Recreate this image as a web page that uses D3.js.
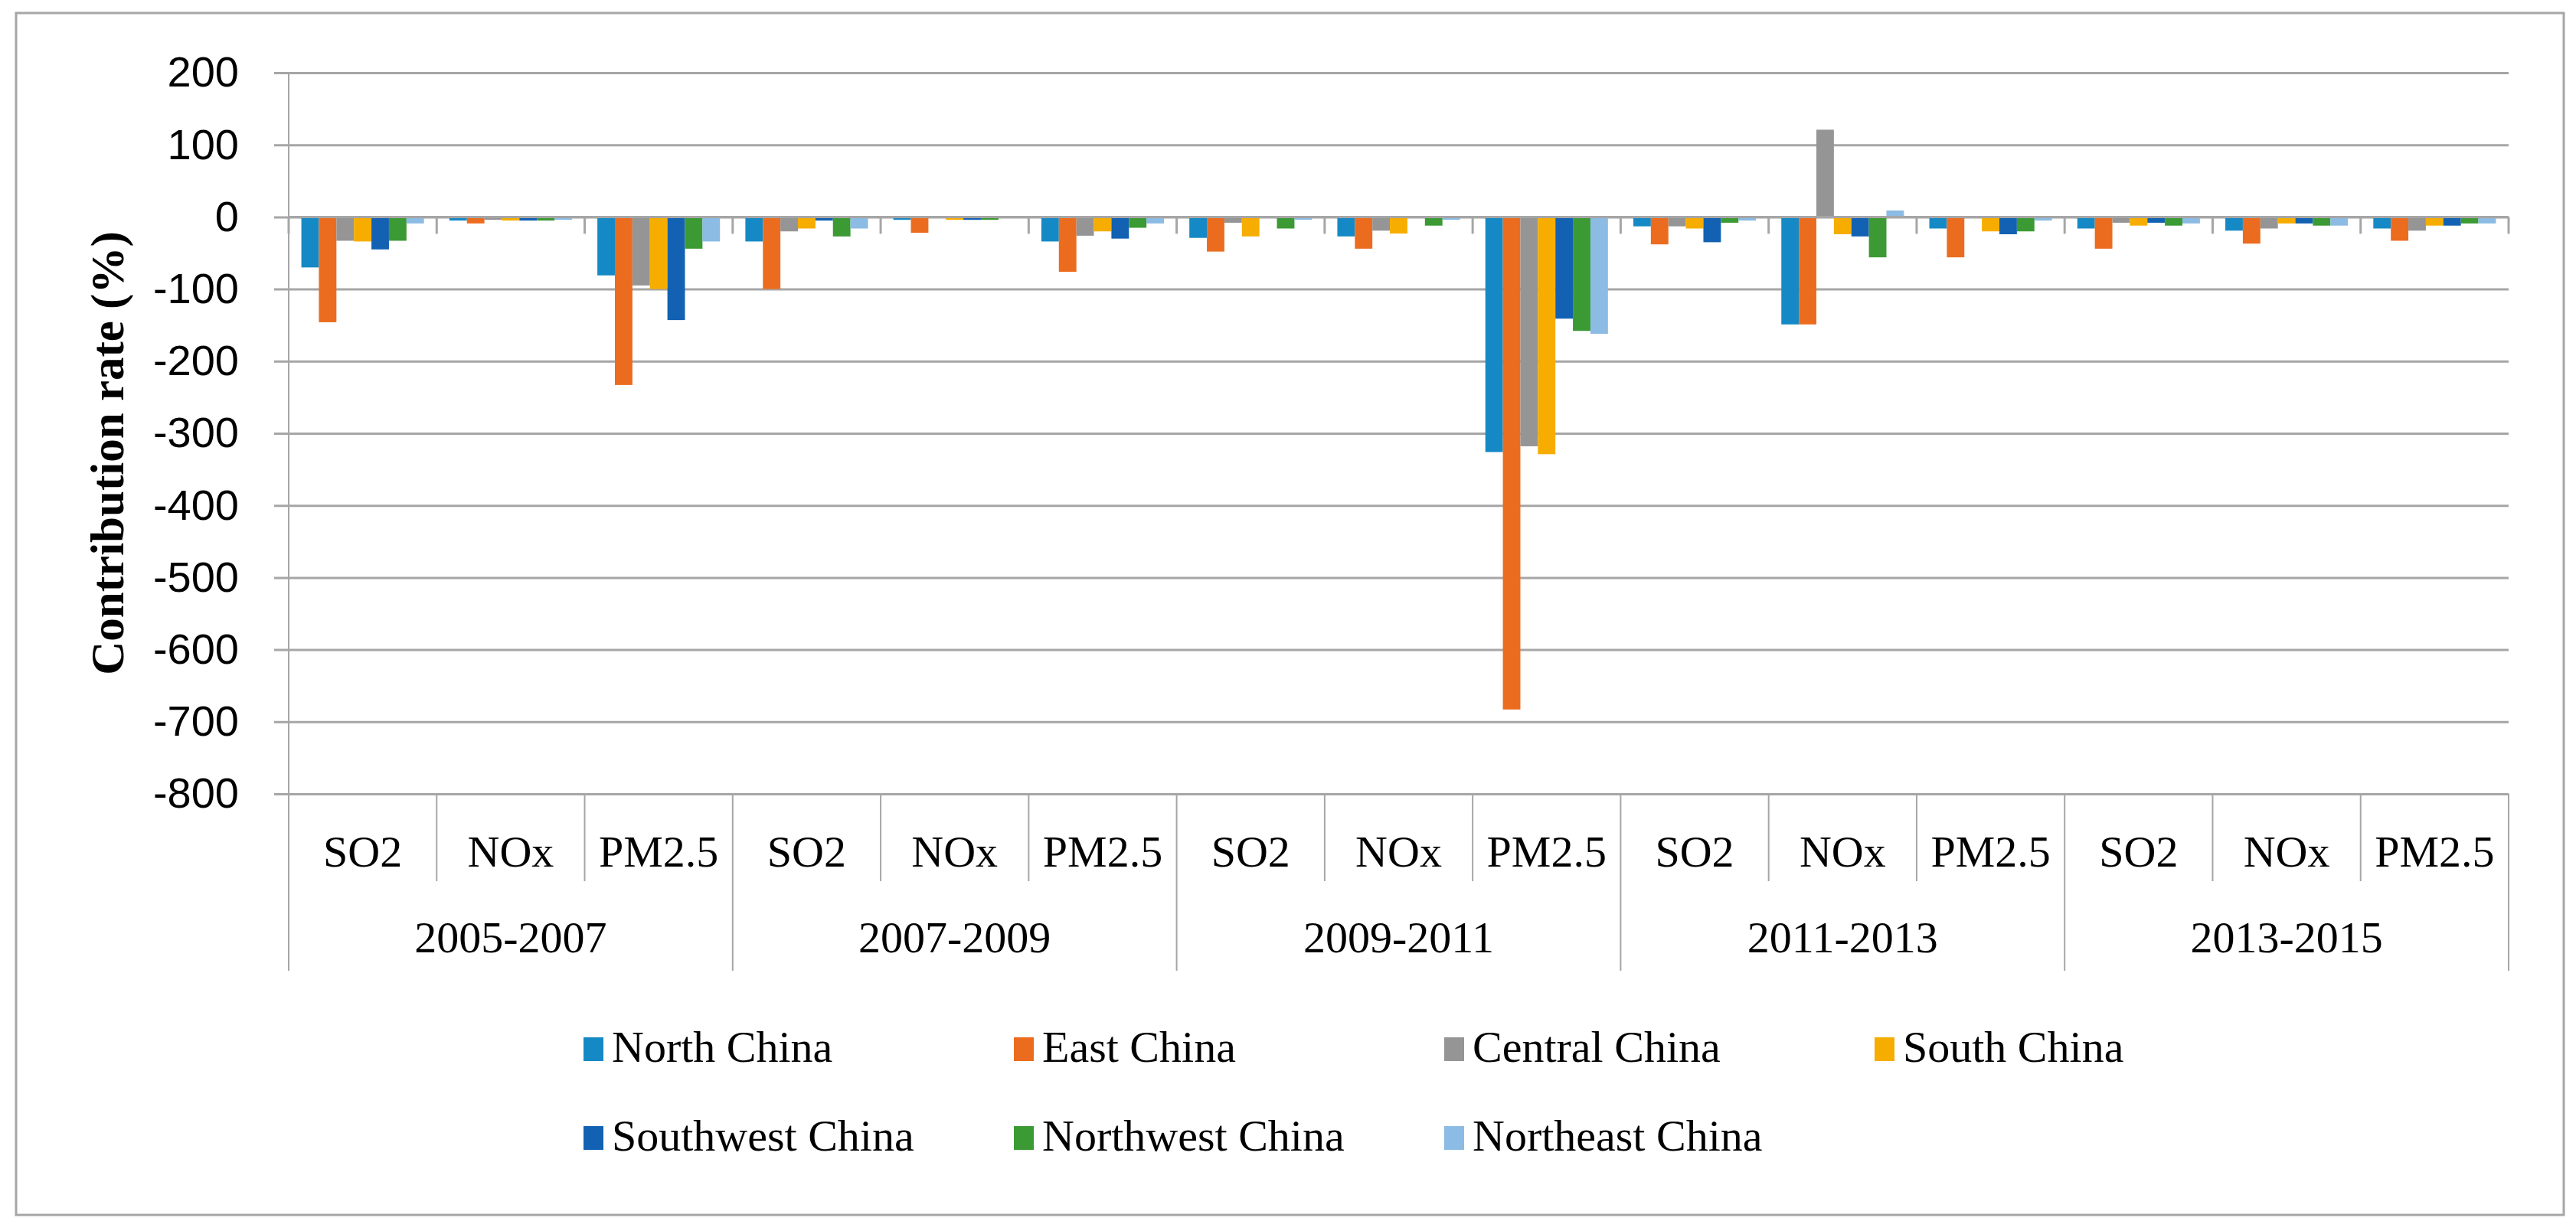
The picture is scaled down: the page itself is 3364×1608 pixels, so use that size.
<!DOCTYPE html>
<html>
<head>
<meta charset="utf-8">
<script src="https://cdn.jsdelivr.net/npm/d3@7"></script>
<style>
  body { margin: 0; background: #fff; }
  text { fill: #000; }
</style>
</head>
<body>
<div id="chart"></div>
<script>
const periods = ['2005-2007', '2007-2009', '2009-2011', '2011-2013', '2013-2015']
const pollutants = ['SO2', 'NOx', 'PM2.5']
const regions = ['North China', 'East China', 'Central China', 'South China',
  'Southwest China', 'Northwest China', 'Northeast China']
const yTicks = [200, 100, 0, -100, -200, -300, -400, -500, -600, -700, -800]

// one value per period x pollutant, in the order above
const northChina     = [-70, -5, -81, -34, -4, -34, -29, -27, -326, -13, -149, -16, -16, -19, -16]
const eastChina      = [-146, -9, -233, -100, -22, -76, -48, -44, -683, -38, -149, -56, -44, -37, -33]
const centralChina   = [-33, -4, -95, -20, -1, -26, -8, -19, -318, -13, 121, -1, -8, -16, -19]
const southChina     = [-34, -5, -100, -16, -4, -20, -27, -23, -329, -16, -24, -20, -12, -9, -12]
const southwestChina = [-45, -5, -143, -5, -4, -30, -1, -1, -141, -35, -27, -24, -8, -9, -12]
const northwestChina = [-33, -5, -44, -27, -4, -15, -16, -12, -158, -8, -56, -20, -12, -12, -9]
const northeastChina = [-9, -4, -34, -16, -1, -9, -4, -4, -162, -5, 9, -5, -9, -12, -9]

const series = [northChina, eastChina, centralChina, southChina,
  southwestChina, northwestChina, northeastChina]
const colors = ['#1589c5', '#ec6c1f', '#959595', '#f6ad00', '#1261b2', '#3b9a33', '#8cbbe3']

const W = 3364, H = 1608
const plotL = 377, plotR = 3276, plotT = 95, plotB = 1037
const serif = '"Liberation Serif", "Times New Roman", serif'
const sans = '"Liberation Sans Narrow", "Liberation Sans", Arial, sans-serif'
const grid = '#a6a6a6'

const keys = []
periods.forEach(p => pollutants.forEach(q => keys.push(p + '|' + q)))

const svg = d3.select('#chart').append('svg')
  .attr('width', W).attr('height', H)

// outer frame
svg.append('rect')
  .attr('x', 21).attr('y', 17).attr('width', 3327).attr('height', 1570)
  .attr('fill', '#fff').attr('stroke', grid).attr('stroke-width', 3)

const y = d3.scaleLinear().domain([-800, 200]).range([plotB, plotT])
const x0 = d3.scaleBand().domain(keys).range([plotL, plotR]).padding(0)
const gap = 1.45
const barW = x0.bandwidth() / (regions.length + gap)
const x1 = d3.scaleBand().domain(d3.range(regions.length))
  .range([barW * gap / 2, x0.bandwidth() - barW * gap / 2])

// gridlines + tick labels: axis sits at the right edge, ticks run left
const yAxis = svg.append('g')
  .attr('transform', `translate(${plotR},0)`)
  .call(d3.axisLeft(y).tickValues(yTicks).tickFormat(d => String(d))
    .tickSize(plotR - 358).tickPadding(46))
yAxis.select('.domain').remove()
yAxis.selectAll('line').attr('stroke', grid).attr('stroke-width', 3)
yAxis.selectAll('text')
  .attr('font-family', sans).attr('font-size', 56).attr('fill', '#000')

// vertical axis line
svg.append('line')
  .attr('x1', plotL).attr('x2', plotL).attr('y1', plotT).attr('y2', plotB)
  .attr('stroke', grid).attr('stroke-width', 2)

// bars
const cats = svg.append('g').selectAll('g')
  .data(keys)
  .join('g')
  .attr('transform', d => `translate(${x0(d)},0)`)

cats.selectAll('rect')
  .data((d, i) => series.map((s, j) => ({ j, v: s[i] })))
  .join('rect')
  .attr('x', d => x1(d.j))
  .attr('width', x1.bandwidth())
  .attr('y', d => y(Math.max(0, d.v)))
  .attr('height', d => Math.abs(y(d.v) - y(0)))
  .attr('fill', d => colors[d.j])

// horizontal axis at zero with tick marks
svg.append('line')
  .attr('x1', plotL).attr('x2', plotR).attr('y1', y(0)).attr('y2', y(0))
  .attr('stroke', grid).attr('stroke-width', 3)

const bounds = keys.map(k => x0(k)).concat([plotR])
svg.append('g').selectAll('line')
  .data(bounds)
  .join('line')
  .attr('x1', d => d).attr('x2', d => d)
  .attr('y1', y(0)).attr('y2', y(0) + 22)
  .attr('stroke', grid).attr('stroke-width', 3)

// category label table below the plot
svg.append('g').selectAll('line')
  .data(bounds)
  .join('line')
  .attr('x1', d => d).attr('x2', d => d)
  .attr('y1', plotB).attr('y2', (d, i) => i % 3 === 0 ? 1268 : 1151)
  .attr('stroke', grid).attr('stroke-width', 2)

svg.append('g').selectAll('text')
  .data(keys)
  .join('text')
  .attr('x', d => x0(d) + x0.bandwidth() / 2)
  .attr('y', 1132)
  .attr('text-anchor', 'middle')
  .attr('font-family', serif).attr('font-size', 58)
  .text(d => d.split('|')[1])

svg.append('g').selectAll('text')
  .data(periods)
  .join('text')
  .attr('x', p => (x0(p + '|SO2') + x0(p + '|PM2.5') + x0.bandwidth()) / 2)
  .attr('y', 1244)
  .attr('text-anchor', 'middle')
  .attr('font-family', serif).attr('font-size', 58)
  .text(d => d)

// y axis title
svg.append('text')
  .attr('transform', 'translate(161,592) rotate(-90)')
  .attr('text-anchor', 'middle')
  .attr('font-family', serif).attr('font-size', 61).attr('font-weight', 'bold')
  .text('Contribution rate (%)')

// legend
const leg = svg.append('g').selectAll('g')
  .data(regions)
  .join('g')
  .attr('transform', (d, i) => `translate(${762 + (i % 4) * 562},${i < 4 ? 1355 : 1471})`)

leg.append('rect')
  .attr('width', 26).attr('height', 31)
  .attr('fill', (d, i) => colors[i])
leg.append('text')
  .attr('x', 37).attr('y', 32)
  .attr('font-family', serif).attr('font-size', 58)
  .text(d => d)
</script>
</body>
</html>
